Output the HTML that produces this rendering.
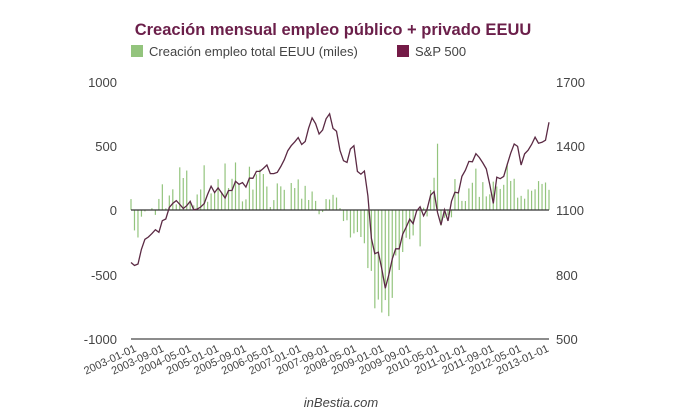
<!DOCTYPE html>
<html><head><meta charset="utf-8"><style>
body{margin:0;background:#fff;}
svg{display:block;font-family:"Liberation Sans",sans-serif;}
</style></head><body>
<svg id="c" width="680" height="420" viewBox="0 0 680 420" xmlns="http://www.w3.org/2000/svg">
<text x="333" y="35" text-anchor="middle" font-size="16.5" font-weight="bold" fill="#6b1f4a">Creación mensual empleo público + privado EEUU</text>
<rect x="131" y="45" width="12" height="12" fill="#93c47d"/>
<text x="149" y="56" font-size="13" fill="#444">Creación empleo total EEUU (miles)</text>
<rect x="397" y="45" width="12" height="12" fill="#741b47"/>
<text x="415" y="56" font-size="13" fill="#444">S&amp;P 500</text>
<g font-size="13" fill="#444" text-anchor="end">
<text x="117" y="87">1000</text><text x="117" y="151">500</text><text x="117" y="215">0</text><text x="117" y="280">-500</text><text x="117" y="344">-1000</text>
</g>
<g font-size="13" fill="#444">
<text x="556" y="87">1700</text><text x="556" y="151">1400</text><text x="556" y="215">1100</text><text x="556" y="280">800</text><text x="556" y="344">500</text>
</g>
<g id="bars" stroke="#93c47d" stroke-width="1.2"></g>
<line x1="131" y1="210" x2="549" y2="210" stroke="#333" stroke-width="1.2"/>
<polyline id="sp" fill="none" stroke="#5b2a44" stroke-width="1.3" points=""/>
<line x1="131" y1="339" x2="549" y2="339" stroke="#666" stroke-width="1.5"/>
<g font-size="11" fill="#444" text-anchor="end">
<text transform="translate(137,351) rotate(-25)">2003-01-01</text>
<text transform="translate(164.5,351) rotate(-25)">2003-09-01</text>
<text transform="translate(192,351) rotate(-25)">2004-05-01</text>
<text transform="translate(219.5,351) rotate(-25)">2005-01-01</text>
<text transform="translate(247,351) rotate(-25)">2005-09-01</text>
<text transform="translate(274.5,351) rotate(-25)">2006-05-01</text>
<text transform="translate(302,351) rotate(-25)">2007-01-01</text>
<text transform="translate(329.5,351) rotate(-25)">2007-09-01</text>
<text transform="translate(357,351) rotate(-25)">2008-05-01</text>
<text transform="translate(384.5,351) rotate(-25)">2009-01-01</text>
<text transform="translate(412,351) rotate(-25)">2009-09-01</text>
<text transform="translate(439.5,351) rotate(-25)">2010-05-01</text>
<text transform="translate(467,351) rotate(-25)">2011-01-01</text>
<text transform="translate(494.5,351) rotate(-25)">2011-09-01</text>
<text transform="translate(522,351) rotate(-25)">2012-05-01</text>
<text transform="translate(549.5,351) rotate(-25)">2013-01-01</text>
</g>
<text x="341" y="407" text-anchor="middle" font-size="13" font-style="italic" fill="#444">inBestia.com</text>
</svg>
<script>
var jobs=[85,-159,-214,-52,-11,-2,14,-38,86,200,13,113,
161,44,332,249,307,74,36,121,160,348,64,129,
135,240,142,362,171,243,370,196,67,83,337,159,
277,315,280,183,23,77,207,184,157,2,210,171,
238,88,188,78,144,71,-33,-16,85,82,118,97,
15,-86,-80,-214,-182,-172,-210,-259,-452,-474,-765,-697,
-798,-701,-826,-684,-354,-467,-327,-216,-227,-198,-6,-283,
18,-50,156,251,516,-122,-61,-42,-57,241,137,71,
70,168,212,322,102,217,106,122,221,183,164,196,
360,226,243,96,110,88,160,150,161,225,203,214,157];
var sp=[855,841,848,916,963,974,990,1008,996,1050,1058,1112,
1131,1144,1126,1107,1120,1140,1101,1104,1114,1130,1173,1211,
1181,1203,1180,1156,1191,1191,1234,1220,1228,1207,1249,1248,
1280,1280,1294,1310,1270,1270,1276,1303,1335,1377,1400,1418,
1438,1406,1420,1482,1530,1503,1455,1473,1526,1549,1481,1468,
1378,1330,1322,1385,1400,1280,1267,1282,1166,968,896,903,
825,735,797,872,919,919,987,1020,1057,1036,1095,1115,
1073,1104,1169,1186,1089,1030,1101,1049,1141,1183,1180,1257,
1286,1327,1325,1363,1345,1320,1292,1218,1131,1253,1246,1257,
1312,1365,1408,1397,1310,1362,1379,1406,1440,1412,1416,1426,1510];
var ns="http://www.w3.org/2000/svg",g=document.getElementById("bars"),pts=[];
for(var i=0;i<=120;i++){var x=131+i*418/120;
var l=document.createElementNS(ns,"line");l.setAttribute("x1",x);l.setAttribute("x2",x);
l.setAttribute("y1",210);l.setAttribute("y2",210-jobs[i]*0.1285);g.appendChild(l);
pts.push(x.toFixed(1)+","+(210-(sp[i]-1100)*0.2142).toFixed(1));}
document.getElementById("sp").setAttribute("points",pts.join(" "));
</script>
</body></html>
